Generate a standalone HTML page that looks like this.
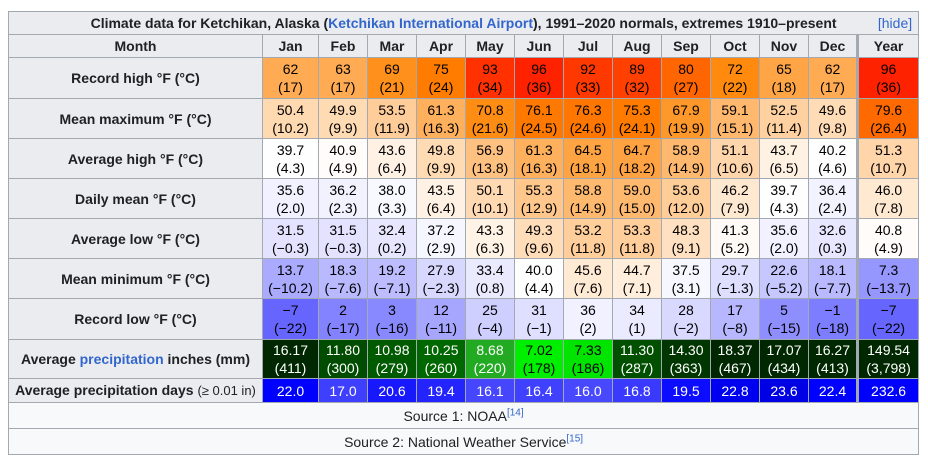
<!DOCTYPE html>
<html><head><meta charset="utf-8">
<style>
body{margin:0;background:#fff;font-family:"Liberation Sans",Arial,sans-serif;font-size:14px;color:#202122}
table{position:absolute;left:8px;top:11px;border-collapse:collapse;table-layout:fixed;width:911px;background:#f8f9fa}
td,th{border:1px solid #a2a9b1;padding:0;text-align:center;line-height:18px;overflow:hidden;white-space:nowrap}
th{background:#eaecf0;font-weight:bold}
.t{height:22px}
.lbl{background:#eaecf0;font-weight:bold}
.yr{border-left:3px solid #a2a9b1}
a{color:#3366cc;text-decoration:none}
sup{font-size:10px;line-height:0;color:#3366cc}
.src{height:25px;background:#f8f9fa}
</style></head><body>
<table id="t">
<colgroup><col style="width:254px"><col style="width:56px"><col span="11" style="width:49px"><col style="width:61px"></colgroup>
<tr><th colspan="14" class="t" style="position:relative">Climate data for Ketchikan, Alaska (<a>Ketchikan International Airport</a>), 1991–2020 normals, extremes 1910–present<span style="position:absolute;right:6px;font-weight:normal"><a>[hide]</a></span></th></tr>
</table>
<script>
function tc(t){
 let r,g,b;
 if(t<4.5){let v=Math.round(255-(4.5-t)*5.77);v=Math.max(0,v);return[v,v,255];}
 if(t<23){r=255;g=255-(t-4.5)*6.7;b=Math.max(0,255-(t-4.5)*13.8);}
 else{r=255;g=Math.max(0,131-(t-23)*7.5);b=0;}
 return[r,Math.round(g),Math.round(b)];
}
const M=["Jan","Feb","Mar","Apr","May","Jun","Jul","Aug","Sep","Oct","Nov","Dec","Year"];
const rows=[
["Record high °F (°C)",["62","63","69","75","93","96","92","89","80","72","65","62","96"],["17","17","21","24","34","36","33","32","27","22","18","17","36"],[17,17,21,24,34,36,33,32,27,22,18,17,36],41],
["Mean maximum °F (°C)",["50.4","49.9","53.5","61.3","70.8","76.1","76.3","75.3","67.9","59.1","52.5","49.6","79.6"],["10.2","9.9","11.9","16.3","21.6","24.5","24.6","24.1","19.9","15.1","11.4","9.8","26.4"],null,40],
["Average high °F (°C)",["39.7","40.9","43.6","49.8","56.9","61.3","64.5","64.7","58.9","51.1","43.7","40.2","51.3"],["4.3","4.9","6.4","9.9","13.8","16.3","18.1","18.2","14.9","10.6","6.5","4.6","10.7"],null,40],
["Daily mean °F (°C)",["35.6","36.2","38.0","43.5","50.1","55.3","58.8","59.0","53.6","46.2","39.7","36.4","46.0"],["2.0","2.3","3.3","6.4","10.1","12.9","14.9","15.0","12.0","7.9","4.3","2.4","7.8"],null,40],
["Average low °F (°C)",["31.5","31.5","32.4","37.2","43.3","49.3","53.2","53.3","48.3","41.3","35.6","32.6","40.8"],["−0.3","−0.3","0.2","2.9","6.3","9.6","11.8","11.8","9.1","5.2","2.0","0.3","4.9"],null,40],
["Mean minimum °F (°C)",["13.7","18.3","19.2","27.9","33.4","40.0","45.6","44.7","37.5","29.7","22.6","18.1","7.3"],["−10.2","−7.6","−7.1","−2.3","0.8","4.4","7.6","7.1","3.1","−1.3","−5.2","−7.7","−13.7"],null,40],
["Record low °F (°C)",["−7","2","3","12","25","31","36","34","28","17","5","−1","−7"],["−22","−17","−16","−11","−4","−1","2","1","−2","−8","−15","−18","−22"],null,41]
];
const T=document.getElementById('t');
let h='<tr><th style="height:22px">Month</th>';
M.forEach((m,i)=>h+='<th'+(i==12?' class="yr"':'')+'>'+m+'</th>');
h+='</tr>';
rows.forEach(r=>{
 h+='<tr><td class="lbl" style="height:'+(r[4]-1)+'px">'+r[0]+'</td>';
 for(let i=0;i<13;i++){
  const c=parseFloat(r[2][i].replace('−','-'));
  const [R,G,B]=tc(c);
  h+='<td'+(i==12?' class="yr"':'')+' style="background:rgb('+R+','+G+','+B+');color:#000">'+r[1][i]+'<br>('+r[2][i]+')</td>';
 }
 h+='</tr>';
});
const pin=["16.17","11.80","10.98","10.25","8.68","7.02","7.33","11.30","14.30","18.37","17.07","16.27","149.54"];
const pmm=["411","300","279","260","220","178","186","287","363","467","434","413","3,798"];
const pc=["#002800","#004c00","#005a00","#006800","#22aa22","#00ee00","#00e400","#005000","#003600","#002800","#002800","#002800","#002800"];
h+='<tr><td class="lbl" style="height:38px">Average <a>precipitation</a> inches (mm)</td>';
for(let i=0;i<13;i++){const dark=!(i==5||i==6);h+='<td'+(i==12?' class="yr"':'')+' style="background:'+pc[i]+';color:'+(dark?'#fff':'#000')+'">'+pin[i]+'<br>('+pmm[i]+')</td>';}
h+='</tr>';
const pd=["22.0","17.0","20.6","19.4","16.1","16.4","16.0","16.8","19.5","22.8","23.6","22.4","232.6"];
const dc=["#0000ff","#3f3fff","#1818ff","#2424ff","#4646ff","#4040ff","#4848ff","#3a3aff","#0c0cff","#0000f0","#0000e4","#0000ff","#0000ff"];
h+='<tr><td class="lbl" style="height:23px">Average precipitation days <span style="font-weight:normal;font-size:13px">(≥ 0.01 in)</span></td>';
for(let i=0;i<13;i++){h+='<td'+(i==12?' class="yr"':'')+' style="background:'+dc[i]+';color:#fff">'+pd[i]+'</td>';}
h+='</tr>';
h+='<tr><td colspan="14" class="src">Source 1: NOAA<sup>[14]</sup></td></tr>';
h+='<tr><td colspan="14" class="src">Source 2: National Weather Service<sup>[15]</sup></td></tr>';
T.insertAdjacentHTML('beforeend',h);
</script>
</body></html>
